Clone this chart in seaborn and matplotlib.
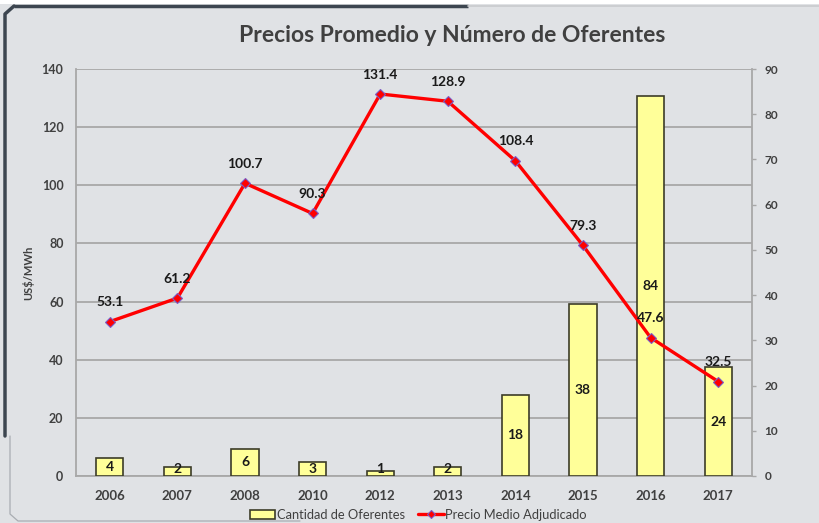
import matplotlib
matplotlib.use("Agg")
import matplotlib.pyplot as plt
from matplotlib.lines import Line2D
from matplotlib.patches import Patch, Rectangle
import seaborn as sns
import pandas as pd

# Data
years = ["2006", "2007", "2008", "2010", "2012", "2013", "2014", "2015", "2016", "2017"]
oferentes = [4, 2, 6, 3, 1, 2, 18, 38, 84, 24]
precio_medio = [53.1, 61.2, 100.7, 90.3, 131.4, 128.9, 108.4, 79.3, 47.6, 32.5]
price_ticks = [0, 20, 40, 60, 80, 100, 120, 140]
count_ticks = [0, 10, 20, 30, 40, 50, 60, 70, 80, 90]

df = pd.DataFrame({"anio": years, "oferentes": oferentes, "precio": precio_medio})

sns.set_theme(style="white")
plt.rcParams["font.family"] = ["Lato", "DejaVu Sans"]

BG = "#e0e2e5"
TXT = "#404040"
GRID = "#a8a8a8"

fig = plt.figure(figsize=(8.19, 5.23), dpi=100, facecolor=BG)
ax = fig.add_axes([76 / 819, 1 - 476 / 523, 676 / 819, 407 / 523])
ax.set_facecolor(BG)

# Price axis (left) carries the grid
ax.set_ylim(0, 140)
ax.set_yticks(price_ticks)
ax.set_yticklabels([str(t) for t in price_ticks], color=TXT, fontsize=9, fontweight="bold")
ax.tick_params(axis="y", length=0, pad=9)
ax.yaxis.grid(True, color=GRID, linewidth=1.3)
ax.set_axisbelow(True)
ax.set_ylabel("US$/MWh", color=TXT, fontsize=8, fontweight="bold", labelpad=5)

# Bars: number of bidders on the right axis
ax_bar = ax.twinx()
sns.barplot(data=df, x="anio", y="oferentes", ax=ax_bar, color="#ffff99",
            saturation=1, width=0.4, edgecolor="#3c3c28", linewidth=1.2, errorbar=None)
ax_bar.set_ylim(0, 90)
ax_bar.set_yticks(count_ticks)
ax_bar.set_yticklabels([str(t) for t in count_ticks], color=TXT, fontsize=8.5, fontweight="bold")
ax_bar.tick_params(axis="y", length=3, width=1, color=GRID, pad=6, direction="out")
ax_bar.set_ylabel("")
ax_bar.set_xlabel("")
for i, v in enumerate(oferentes):
    ax_bar.text(i, max(v / 2, 1.6), str(v), ha="center", va="center",
                fontsize=10, fontweight="bold", color="#1a1a1a")

# Line: average awarded price, drawn over the bars
ax_line = ax.twinx()
sns.pointplot(data=df, x="anio", y="precio", ax=ax_line, color="#ff0000",
              markers="D", errorbar=None, linewidth=2.4, markersize=5,
              markeredgecolor="#7a5cc8", markeredgewidth=0.8)
ax_line.set_ylim(0, 140)
ax_line.set_yticks([])
ax_line.set_ylabel("")
ax_line.set_xlabel("")
for i, v in enumerate(precio_medio):
    ax_line.annotate(f"{v}", (i, v), xytext=(0, 14), textcoords="offset points",
                     ha="center", va="center", fontsize=10, fontweight="bold", color="#1a1a1a")

for a in (ax, ax_bar, ax_line):
    a.set_xlim(-0.5, len(years) - 0.5)
    for s in a.spines.values():
        s.set_visible(False)

ax.spines["left"].set_visible(True)
ax.spines["bottom"].set_visible(True)
ax_bar.spines["right"].set_visible(True)
for s in (ax.spines["left"], ax.spines["bottom"], ax_bar.spines["right"]):
    s.set_color(GRID)
    s.set_linewidth(1.3)

ax.set_xticks(range(len(years)))
ax.set_xticklabels(years, color=TXT, fontsize=9.5, fontweight="bold")
ax.tick_params(axis="x", length=0, pad=10)
for a in (ax_bar, ax_line):
    a.tick_params(axis="x", length=0, labelbottom=False)

fig.text(452 / 819, 1 - 35 / 523, "Precios Promedio y Número de Oferentes",
         ha="center", va="center", fontsize=16.5, fontweight="bold", color=TXT)

# Legend
handles = [
    Patch(facecolor="#ffff99", edgecolor="#3c3c28", linewidth=1.2),
    Line2D([0], [0], color="#ff0000", linewidth=2.4, marker="D", markersize=4,
           markeredgecolor="#7a5cc8", markeredgewidth=0.8),
]
leg = fig.legend(handles, ["Cantidad de Oferentes", "Precio Medio Adjudicado"],
                 loc="center", bbox_to_anchor=(418 / 819, 8 / 523), ncol=2,
                 frameon=False, fontsize=9.3, handlelength=2.0, handleheight=0.8,
                 handletextpad=0.1, columnspacing=1.0)
for t in leg.get_texts():
    t.set_color(TXT)

# Slide frame around the chart
fig.add_artist(Rectangle((0, 1 - 4 / 523), 1, 4 / 523, transform=fig.transFigure,
                         facecolor="white", edgecolor="none"))
fig.add_artist(Line2D([14 / 819, 468 / 819], [1 - 6 / 523, 1 - 6 / 523],
                      transform=fig.transFigure, color="#3d4650", linewidth=2.5,
                      solid_capstyle="butt"))
fig.add_artist(Line2D([468 / 819, 1], [1 - 6 / 523, 1 - 6 / 523],
                      transform=fig.transFigure, color="#c8cacd", linewidth=1.2))
fig.add_artist(Line2D([5 / 819, 5 / 819, 14 / 819], [1 - 436 / 523, 1 - 14 / 523, 1 - 6 / 523],
                      transform=fig.transFigure, color="#3d4650", linewidth=2.5,
                      solid_joinstyle="round"))
fig.add_artist(Line2D([10 / 819, 10 / 819, 18 / 819, 300 / 819],
                      [1 - 436 / 523, 1 - 514 / 523, 1 - 521 / 523, 1 - 521 / 523],
                      transform=fig.transFigure, color="#a9adb2", linewidth=0.9))

fig.savefig("out.png", dpi=100, facecolor=BG)
